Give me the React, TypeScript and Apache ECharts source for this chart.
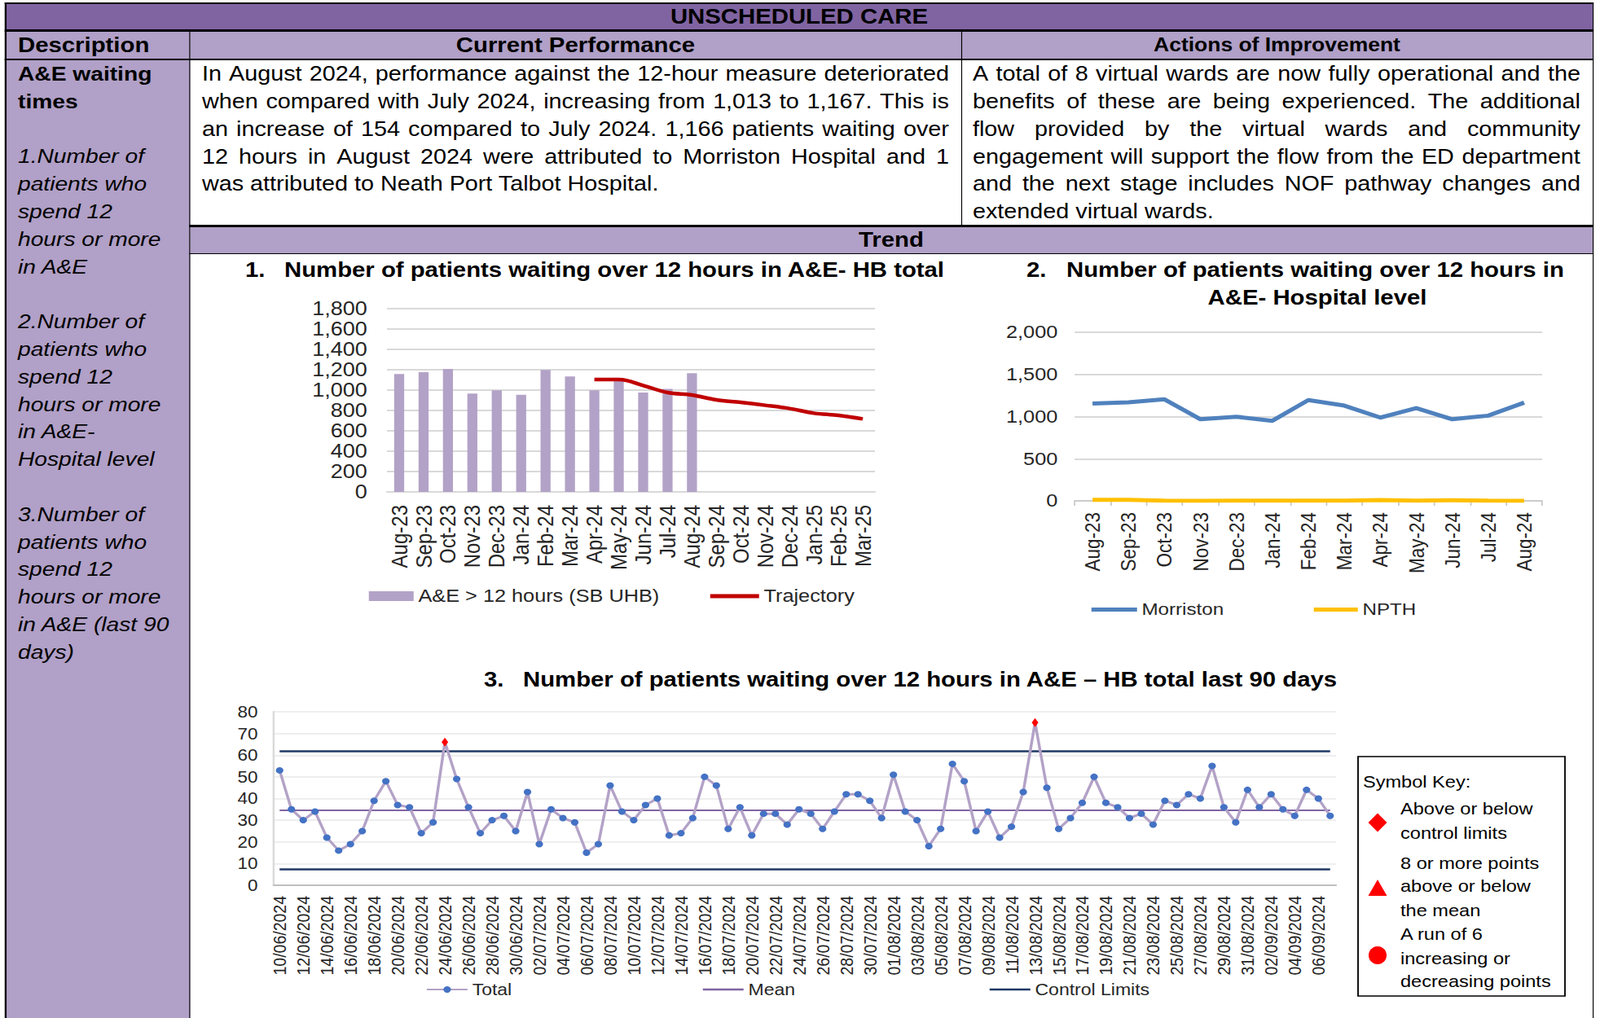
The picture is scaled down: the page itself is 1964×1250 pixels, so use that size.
import React, { useEffect, useRef } from 'react';
import * as echarts from 'echarts';

// horizontal stretch of the reference document
const S = 1.15;
const ux = (v: number) => v / S;
const W_U = 1964 / S;
const FONT = '"Liberation Sans", Arial, Helvetica, sans-serif';
const TXT = '#262626';

// ---------- Chart 1 data ----------
const MONTHS_1 = ['Aug-23', 'Sep-23', 'Oct-23', 'Nov-23', 'Dec-23', 'Jan-24', 'Feb-24', 'Mar-24', 'Apr-24', 'May-24', 'Jun-24', 'Jul-24', 'Aug-24', 'Sep-24', 'Oct-24', 'Nov-24', 'Dec-24', 'Jan-25', 'Feb-25', 'Mar-25'];
const HB_TOTAL = [1158, 1176, 1208, 966, 998, 955, 1198, 1134, 998, 1098, 976, 1013, 1167, null, null, null, null, null, null, null];
const TRAJECTORY = [null, null, null, null, null, null, null, null, 1104, 1104, 1045, 976, 952, 904, 880, 851, 819, 773, 752, 717];
const Y1_TICKS = { min: 0, max: 1800, interval: 200 };

// ---------- Chart 2 data ----------
const MONTHS_2 = ['Aug-23', 'Sep-23', 'Oct-23', 'Nov-23', 'Dec-23', 'Jan-24', 'Feb-24', 'Mar-24', 'Apr-24', 'May-24', 'Jun-24', 'Jul-24', 'Aug-24'];
const MORRISTON = [1155, 1168, 1205, 968, 998, 950, 1196, 1130, 988, 1100, 968, 1011, 1166];
const NPTH = [12, 12, 3, 1, 2, 2, 2, 2, 10, 3, 8, 2, 1];
const Y2_TICKS = { min: 0, max: 2000, interval: 500 };

// ---------- Chart 3 data ----------
const DATES = [
  '10/06/2024', '11/06/2024', '12/06/2024', '13/06/2024', '14/06/2024', '15/06/2024', '16/06/2024', '17/06/2024', '18/06/2024', '19/06/2024',
  '20/06/2024', '21/06/2024', '22/06/2024', '23/06/2024', '24/06/2024', '25/06/2024', '26/06/2024', '27/06/2024', '28/06/2024', '29/06/2024',
  '30/06/2024', '01/07/2024', '02/07/2024', '03/07/2024', '04/07/2024', '05/07/2024', '06/07/2024', '07/07/2024', '08/07/2024', '09/07/2024',
  '10/07/2024', '11/07/2024', '12/07/2024', '13/07/2024', '14/07/2024', '15/07/2024', '16/07/2024', '17/07/2024', '18/07/2024', '19/07/2024',
  '20/07/2024', '21/07/2024', '22/07/2024', '23/07/2024', '24/07/2024', '25/07/2024', '26/07/2024', '27/07/2024', '28/07/2024', '29/07/2024',
  '30/07/2024', '31/07/2024', '01/08/2024', '02/08/2024', '03/08/2024', '04/08/2024', '05/08/2024', '06/08/2024', '07/08/2024', '08/08/2024',
  '09/08/2024', '10/08/2024', '11/08/2024', '12/08/2024', '13/08/2024', '14/08/2024', '15/08/2024', '16/08/2024', '17/08/2024', '18/08/2024',
  '19/08/2024', '20/08/2024', '21/08/2024', '22/08/2024', '23/08/2024', '24/08/2024', '25/08/2024', '26/08/2024', '27/08/2024', '28/08/2024',
  '29/08/2024', '30/08/2024', '31/08/2024', '01/09/2024', '02/09/2024', '03/09/2024', '04/09/2024', '05/09/2024', '06/09/2024', '07/09/2024',
];
const TOTAL_JUN = [53, 35, 30, 34, 22, 16, 19, 25, 39, 48, 37, 36, 24, 29, 66, 49, 36, 24, 30, 32, 25];
const TOTAL_JUL = [43, 19, 35, 31, 29, 15, 19, 46, 34, 30, 37, 40, 23, 24, 31, 50, 46, 26, 36, 23, 33, 33, 28, 35, 33, 26, 34, 42, 42, 39, 31];
const TOTAL_AUG = [51, 34, 30, 18, 26, 56, 48, 25, 34, 22, 27, 43, 75, 45, 26, 31, 38, 50, 38, 36, 31, 33, 28, 39, 37, 42, 40, 55, 36, 29, 44];
const TOTAL_SEP = [36, 42, 35, 32, 44, 40, 32];
const TOTAL = [...TOTAL_JUN, ...TOTAL_JUL, ...TOTAL_AUG, ...TOTAL_SEP];
const MEAN = 34.6;
const UCL = 61.7;
const LCL = 7.6;
const Y3_TICKS = { min: 0, max: 80, interval: 10 };

// ---------- Table texts ----------
const PERF_LINES = [
  'In August 2024, performance against the 12-hour measure deteriorated',
  'when compared with July 2024, increasing from 1,013 to 1,167. This is',
  'an increase of 154 compared to July 2024. 1,166 patients waiting over',
  '12 hours in August 2024 were attributed to Morriston Hospital and 1',
  'was attributed to Neath Port Talbot Hospital.',
];
const ACTION_LINES = [
  'A total of 8 virtual wards are now fully operational and the',
  'benefits of these are being experienced. The additional',
  'flow provided by the virtual wards and community',
  'engagement will support the flow from the ED department',
  'and the next stage includes NOF pathway changes and',
  'extended virtual wards.',
];
const DESC_LINES: { t: string; b?: boolean }[] = [
  { t: 'A&E waiting', b: true }, { t: 'times', b: true }, { t: '' },
  { t: '1.Number of' }, { t: 'patients who' }, { t: 'spend 12' }, { t: 'hours or more' }, { t: 'in A&E' }, { t: '' },
  { t: '2.Number of' }, { t: 'patients who' }, { t: 'spend 12' }, { t: 'hours or more' }, { t: 'in A&E-' }, { t: 'Hospital level' }, { t: '' },
  { t: '3.Number of' }, { t: 'patients who' }, { t: 'spend 12' }, { t: 'hours or more' }, { t: 'in A&E (last 90' }, { t: 'days)' },
];
const KEY_LINES = ['Above or below', 'control limits', '8 or more points', 'above or below', 'the mean', 'A run of 6', 'increasing or', 'decreasing points'];
const KEY_LINE_Y = [993, 1023, 1060, 1088, 1118, 1147, 1177, 1205];

const DARK = '#8064A2';
const LIGHT = '#B1A0C7';
const LH = 33.8;

const commas = (v: number) => v.toLocaleString('en-US');

function buildOption(): any {
  const txt = (text: string, x: number, y: number, size: number, bold: boolean, align = 'left') => ({
    type: 'text', x: ux(x), y, silent: true,
    style: {
      text, fill: '#000', fontSize: size, fontWeight: bold ? 'bold' : 'normal', fontFamily: FONT,
      textAlign: align, align, textVerticalAlign: 'middle', verticalAlign: 'middle',
    },
  });
  const kx = ux(1691);
  const red = '#FF0000';
  const graphic: any[] = [
    txt('1.', 301, 331, 25.5, true),
    txt('Number of patients waiting over 12 hours in A&E- HB total', 349, 331, 25.5, true),
    txt('2.', 1260, 331, 25.5, true),
    txt('Number of patients waiting over 12 hours in', 1309, 331, 25.5, true),
    txt('A&E- Hospital level', 1617, 365, 25.5, true, 'center'),
    txt('3.', 594, 834, 25.5, true),
    txt('Number of patients waiting over 12 hours in A&E \u2013 HB total last 90 days', 642, 834, 25.5, true),
    {
      type: 'rect', shape: { x: ux(1667), y: 929, width: ux(254), height: 294 },
      style: { fill: '#fff', stroke: '#000', lineWidth: 1.6 }, silent: true,
    },
    txt('Symbol Key:', 1673, 960, 20.5, false),
    ...KEY_LINES.map((t, i) => txt(t, 1719, KEY_LINE_Y[i], 20.5, false)),
    {
      type: 'polygon', silent: true,
      shape: { points: [[kx, 998.5], [kx + 10, 1010], [kx, 1021.5], [kx - 10, 1010]] },
      style: { fill: red },
    },
    {
      type: 'polygon', silent: true,
      shape: { points: [[kx, 1080], [kx + 10, 1100], [kx - 10, 1100]] },
      style: { fill: red },
    },
    { type: 'ellipse', silent: true, shape: { cx: kx, cy: 1173, rx: 9.6, ry: 11 }, style: { fill: red } },
  ];

  const axisLabelBase = { color: TXT, fontFamily: FONT };

  const totalData = TOTAL.map((v) =>
    v > UCL || v < LCL
      ? { value: v, symbol: 'diamond', symbolSize: [7, 11], itemStyle: { color: red } }
      : v
  );

  const leg = (name: string, left: number, top: number, w: number, h: number, size: number, icon?: string) => ({
    left: ux(left), top, itemWidth: ux(w), itemHeight: h, itemGap: 10, selectedMode: false,
    textStyle: { color: TXT, fontSize: size, fontFamily: FONT },
    data: [icon ? { name, icon } : name],
  });

  return {
    animation: false,
    textStyle: { fontFamily: FONT },
    graphic,
    grid: [
      { left: ux(475), top: 379, width: ux(599), height: 225, containLabel: false },
      { left: ux(1319), top: 408, width: ux(574), height: 207, containLabel: false },
      { left: ux(336), top: 874, width: ux(1304), height: 213, containLabel: false },
    ],
    xAxis: [
      {
        type: 'category', gridIndex: 0, data: MONTHS_1,
        axisLine: { lineStyle: { color: '#D9D9D9', width: 2 } },
        axisTick: { show: false },
        axisLabel: { ...axisLabelBase, rotate: 90, interval: 0, fontSize: 24, margin: 16 },
      },
      {
        type: 'category', gridIndex: 1, data: MONTHS_2,
        axisLine: { lineStyle: { color: '#C8C8C8', width: 1.5 } },
        axisTick: { show: true, alignWithLabel: false, interval: 0, length: 6, lineStyle: { color: '#C8C8C8', width: 1.5 } },
        axisLabel: { ...axisLabelBase, rotate: 90, interval: 0, fontSize: 22.5, margin: 14 },
      },
      {
        type: 'category', gridIndex: 2, data: DATES,
        axisLine: { lineStyle: { color: '#BFBFBF', width: 2 } },
        axisTick: { show: false },
        axisLabel: { ...axisLabelBase, rotate: 90, interval: 1, fontSize: 19.5, margin: 13 },
      },
    ],
    yAxis: [
      {
        type: 'value', gridIndex: 0, ...Y1_TICKS,
        axisLine: { show: false }, axisTick: { show: false },
        splitLine: { lineStyle: { color: '#D9D9D9', width: 2 } },
        axisLabel: { ...axisLabelBase, fontSize: 23.5, margin: 21, formatter: commas },
      },
      {
        type: 'value', gridIndex: 1, ...Y2_TICKS,
        axisLine: { show: false }, axisTick: { show: false },
        splitLine: { lineStyle: { color: '#D9D9D9', width: 2 } },
        axisLabel: { ...axisLabelBase, fontSize: 22, margin: 18, formatter: commas },
      },
      {
        type: 'value', gridIndex: 2, ...Y3_TICKS,
        axisLine: { show: true, lineStyle: { color: '#D9D9D9', width: 2 } }, axisTick: { show: false },
        splitLine: { lineStyle: { color: '#EEEEEE', width: 2 } },
        axisLabel: { ...axisLabelBase, fontSize: 19.5, margin: 17 },
      },
    ],
    legend: [
      leg('A&E > 12 hours (SB UHB)', 447, 716, 55, 12, 22, 'rect'),
      leg('Trajectory', 866, 716, 60, 5, 22, 'rect'),
      leg('Morriston', 1334, 733, 56, 5, 21, 'rect'),
      leg('NPTH', 1607, 733, 54, 5, 21, 'rect'),
      leg('Total', 517, 1200, 50, 10, 20),
      leg('Mean', 857, 1200, 50, 2.5, 20, 'rect'),
      leg('Control Limits', 1209, 1200, 50, 2.5, 20, 'rect'),
    ],
    series: [
      {
        name: 'A&E > 12 hours (SB UHB)', type: 'bar', xAxisIndex: 0, yAxisIndex: 0,
        data: HB_TOTAL, barWidth: ux(12.3), itemStyle: { color: '#B3A2C7' },
      },
      {
        name: 'Trajectory', type: 'line', xAxisIndex: 0, yAxisIndex: 0,
        data: TRAJECTORY, smooth: 0.35, symbol: 'none',
        lineStyle: { color: '#C00000', width: 4.5 }, itemStyle: { color: '#C00000' },
      },
      {
        name: 'Morriston', type: 'line', xAxisIndex: 1, yAxisIndex: 1,
        data: MORRISTON, symbol: 'none',
        lineStyle: { color: '#4F81BD', width: 5 }, itemStyle: { color: '#4F81BD' },
      },
      {
        name: 'NPTH', type: 'line', xAxisIndex: 1, yAxisIndex: 1,
        data: NPTH, symbol: 'none',
        lineStyle: { color: '#FFC000', width: 5 }, itemStyle: { color: '#FFC000' },
      },
      {
        name: 'Mean', type: 'line', xAxisIndex: 2, yAxisIndex: 2, data: [], symbol: 'none',
        lineStyle: { color: '#8064A2', width: 2 }, itemStyle: { color: '#8064A2' },
        markLine: {
          silent: true, symbol: ['none', 'none'], label: { show: false },
          lineStyle: { color: '#8064A2', width: 2, type: 'solid' },
          data: [[{ coord: [DATES[0], MEAN] }, { coord: [DATES[DATES.length - 1], MEAN] }]],
        },
      },
      {
        name: 'Control Limits', type: 'line', xAxisIndex: 2, yAxisIndex: 2, data: [], symbol: 'none',
        lineStyle: { color: '#1F3864', width: 2.5 }, itemStyle: { color: '#1F3864' },
        markLine: {
          silent: true, symbol: ['none', 'none'], label: { show: false },
          lineStyle: { color: '#1F3864', width: 2.5, type: 'solid' },
          data: [
            [{ coord: [DATES[0], UCL] }, { coord: [DATES[DATES.length - 1], UCL] }],
            [{ coord: [DATES[0], LCL] }, { coord: [DATES[DATES.length - 1], LCL] }],
          ],
        },
      },
      {
        name: 'Total', type: 'line', xAxisIndex: 2, yAxisIndex: 2, z: 5,
        data: totalData, symbol: 'circle', symbolSize: 8, showAllSymbol: true,
        lineStyle: { color: '#B3A2C7', width: 3 }, itemStyle: { color: '#4472C4' },
      },
    ],
  };
}

const abs = (x1: number, y1: number, x2: number, y2: number): React.CSSProperties => ({
  position: 'absolute', left: ux(x1), top: y1, width: ux(x2 - x1), height: y2 - y1,
});

function Block({ x1, y1, x2, y2, bg }: { x1: number; y1: number; x2: number; y2: number; bg: string }) {
  return <div style={{ ...abs(x1, y1, x2, y2), background: bg }} />;
}

function JLine({ text, x1, x2, y, last }: { text: string; x1: number; x2: number; y: number; last?: boolean }) {
  const style: React.CSSProperties = {
    ...abs(x1, y - LH / 2, x2, y + LH / 2),
    lineHeight: `${LH}px`, fontSize: 25, whiteSpace: 'pre', display: 'flex',
    justifyContent: last ? 'flex-start' : 'space-between',
  };
  if (last) return <div style={style}>{text}</div>;
  return (
    <div style={style}>
      {text.split(' ').map((w, i) => <span key={i}>{w}</span>)}
    </div>
  );
}

function CellText({ text, x1, x2, y1, y2, size, align }: {
  text: string; x1: number; x2: number; y1: number; y2: number; size: number; align: 'left' | 'center';
}) {
  return (
    <div style={{
      ...abs(x1, y1, x2, y2), lineHeight: `${y2 - y1}px`, fontSize: size, fontWeight: 'bold',
      textAlign: align, whiteSpace: 'pre',
    }}>{text}</div>
  );
}

export default function App() {
  const ref = useRef<HTMLDivElement>(null);
  useEffect(() => {
    document.documentElement.style.overflow = 'hidden';
    const chart = echarts.init(ref.current as HTMLDivElement, null, { renderer: 'svg' });
    chart.setOption(buildOption());
    return () => chart.dispose();
  }, []);

  const BL = '#000';
  return (
    <div style={{
      position: 'absolute', left: 0, top: 0, width: W_U, height: 1250, overflow: 'hidden',
      transform: `scaleX(${S})`, transformOrigin: '0 0', background: '#fff', color: '#000', fontFamily: FONT,
    }}>
      {/* backgrounds */}
      <Block x1={7} y1={4} x2={1955} y2={37} bg={DARK} />
      <Block x1={7} y1={37} x2={1955} y2={73} bg={LIGHT} />
      <Block x1={7} y1={73} x2={233} y2={1250} bg={LIGHT} />
      <Block x1={233} y1={277} x2={1955} y2={311} bg={LIGHT} />
      {/* borders */}
      <Block x1={6} y1={2.5} x2={1956.5} y2={5} bg={BL} />
      <Block x1={6} y1={35.5} x2={1956.5} y2={38.5} bg={BL} />
      <Block x1={6} y1={71.5} x2={1956.5} y2={74} bg={BL} />
      <Block x1={232} y1={275.5} x2={1956.5} y2={278.5} bg={BL} />
      <Block x1={232} y1={310.5} x2={1956.5} y2={312} bg={BL} />
      <Block x1={6} y1={2.5} x2={8} y2={1250} bg={BL} />
      <Block x1={232.3} y1={37} x2={233.8} y2={1250} bg={BL} />
      <Block x1={1179.5} y1={37} x2={1181} y2={277} bg={BL} />
      <Block x1={1954.5} y1={2.5} x2={1956.5} y2={1250} bg={BL} />

      {/* header texts */}
      <CellText text="UNSCHEDULED CARE" x1={7} x2={1955} y1={4} y2={37} size={25.5} align="center" />
      <CellText text="Description" x1={22} x2={233} y1={38} y2={72} size={25.5} align="left" />
      <CellText text="Current Performance" x1={233} x2={1180} y1={38} y2={72} size={25.5} align="center" />
      <CellText text="Actions of Improvement" x1={1180} x2={1955} y1={38} y2={72} size={23} align="center" />
      <CellText text="Trend" x1={233} x2={1955} y1={278} y2={311} size={25.5} align="center" />

      {/* description column */}
      {DESC_LINES.map((l, i) => (
        <div key={i} style={{
          ...abs(22, 74 + i * LH, 233, 74 + (i + 1) * LH), lineHeight: `${LH}px`, fontSize: 24.5,
          fontWeight: l.b ? 'bold' : 'normal', fontStyle: l.b ? 'normal' : 'italic', whiteSpace: 'pre',
        }}>{l.t}</div>
      ))}

      {/* paragraphs */}
      {PERF_LINES.map((t, i) => (
        <JLine key={'p' + i} text={t} x1={248} x2={1165} y={91 + i * LH} last={i === PERF_LINES.length - 1} />
      ))}
      {ACTION_LINES.map((t, i) => (
        <JLine key={'a' + i} text={t} x1={1194} x2={1940} y={91 + i * LH} last={i === ACTION_LINES.length - 1} />
      ))}

      {/* charts */}
      <div ref={ref} style={{ position: 'absolute', left: 0, top: 0, width: W_U, height: 1250 }} />
    </div>
  );
}
